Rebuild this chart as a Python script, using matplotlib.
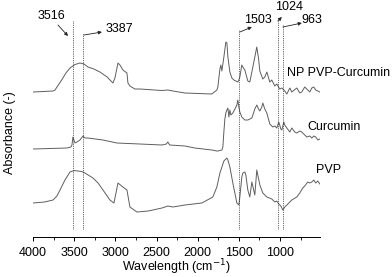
import matplotlib
matplotlib.use('Agg')
import matplotlib.pyplot as plt
from matplotlib.ticker import MultipleLocator

plt.rcParams['font.family'] = ['Liberation Sans', 'DejaVu Sans']
plt.rcParams['font.size'] = 9

# wavenumber (cm-1) and stacked absorbance (arbitrary units, offsets included)
np_wn = [4000, 3757, 3733, 3652, 3600, 3551, 3490, 3430, 3380, 3333, 3260, 3187, 3100,
         3029, 3005, 2968, 2944, 2908, 2859, 2847, 2823, 2762, 2700, 2434, 2362, 2300,
         2155, 1828, 1767, 1755, 1730, 1718, 1706, 1682, 1658, 1645, 1633, 1609, 1585,
         1560, 1512, 1500, 1488, 1464, 1451, 1427, 1391, 1367, 1342, 1306, 1282, 1260,
         1245, 1209, 1185, 1160, 1124, 1100, 1063, 1039, 1003, 978, 942, 917, 881, 857,
         796, 760, 736, 700, 675, 638, 614, 590, 566, 541, 517]
np_abs = [145, 146, 147, 157, 164, 169, 172.5, 174, 173, 170, 168, 165, 160,
          154, 159, 174, 172, 167, 164, 154, 151, 148, 148, 146.5, 147, 146,
          144, 143, 147, 150, 168, 172, 166, 180, 195, 194, 180, 165, 159,
          157, 155, 157, 160, 172, 170, 167, 156, 155, 165, 180, 190, 178,
          166, 158, 160, 165, 155, 157, 151, 153, 148, 149, 146, 143, 149, 145,
          149, 144, 145, 150, 148, 145, 149, 150, 147, 146, 145]

cur_wn = [4000, 3587, 3540, 3527, 3515, 3490, 3466, 3430, 3393, 3369, 3333, 3150, 2981,
          2701, 2434, 2380, 2362, 2340, 2155, 2034, 1828, 1767, 1755, 1706, 1694, 1682,
          1670, 1658, 1645, 1633, 1621, 1609, 1597, 1573, 1548, 1524, 1512, 1500, 1488,
          1464, 1427, 1391, 1342, 1306, 1282, 1260, 1245, 1221, 1209, 1185, 1160, 1124,
          1087, 1063, 1039, 1015, 990, 978, 954, 942, 917, 881, 857, 820, 796, 760, 736,
          700, 675, 638, 614, 590, 566, 541, 517]
cur_abs = [88, 89, 90, 92, 100, 94, 95, 97, 101, 99, 99, 97, 94,
           93, 92, 93, 95, 92, 91, 89, 87, 86, 86, 87, 90, 105,
           118, 124, 127, 129, 120, 127, 122, 124, 128, 132, 137, 130, 125,
           120, 117, 117, 119, 128, 132, 128, 126, 130, 134, 128, 124, 113,
           110, 111, 109, 115, 108, 107, 115, 112, 109, 105, 109, 105, 104, 106, 105,
           102, 100, 101, 99, 101, 100, 97, 98]

pvp_wn = [4000, 3860, 3757, 3710, 3672, 3612, 3551, 3500, 3454, 3410, 3369, 3272, 3210,
          3150, 3066, 3017, 2968, 2908, 2859, 2823, 2738, 2600, 2434, 2362, 2300, 2155,
          1949, 1816, 1767, 1730, 1682, 1645, 1633, 1609, 1573, 1524, 1500, 1488, 1464,
          1451, 1427, 1415, 1391, 1367, 1342, 1306, 1282, 1245, 1209, 1160, 1100, 1063,
          1039, 1015, 990, 966, 942, 917, 881, 857, 796, 760, 724, 700, 663, 638, 614,
          590, 566, 541, 517]
pvp_abs = [34, 35, 37, 41, 47, 57, 65, 66.5, 66, 65.5, 64, 59, 54,
           47, 37, 34, 54, 50, 47, 30, 25, 26, 29, 31, 30, 32,
           34, 40, 50, 64, 76, 79, 77, 70, 54, 34, 32, 40, 60,
           64, 65, 62, 47, 40, 55, 42, 67, 52, 44, 40, 38, 35,
           36, 33, 31, 27, 30, 32, 35, 37, 40, 44, 49, 51, 55, 54, 55,
           57, 54, 56, 53]

names = ['NP PVP-Curcumin', 'Curcumin', 'PVP']
name_pos = [(917, 164), (663, 110), (566, 67)]

marks = [3516, 3387, 1503, 1024, 963]
mark_top = [217, 204, 207, 217, 212]
# label position, arrow tail, arrow head
mark_text = [(3782, 221), (2956, 208), (1269, 217), (893, 230), (614, 217)]
mark_tail = [(3697, 212), (3381, 202), (1488, 205), (1027, 216), (966, 210)]
mark_head = [(3575, 201), (3163, 205), (1342, 210), (978, 220), (735, 214)]

fig = plt.figure(figsize=(3.92, 2.77), dpi=100)
ax = fig.add_axes([0.0842, 0.1444, 0.732, 0.8375])

col = '#5e5e5e'
ax.plot(np_wn, np_abs, color=col, lw=0.7)
ax.plot(cur_wn, cur_abs, color=col, lw=0.7)
ax.plot(pvp_wn, pvp_abs, color=col, lw=0.7)

for n, (x, y) in zip(names, name_pos):
    ax.text(x, y, n, ha='left', va='center', fontsize=9, clip_on=False)

for m, top in zip(marks, mark_top):
    ax.plot([m, m], [8, top], color='#333333', lw=0.6, ls=(0, (1, 1.2)))

for m, t, tl, hd in zip(marks, mark_text, mark_tail, mark_head):
    ax.text(t[0], t[1], str(m), ha='center', va='center', fontsize=9)
    ax.annotate('', xy=hd, xytext=tl,
                arrowprops=dict(arrowstyle='-|>', color='#222222', lw=0.6,
                                mutation_scale=5, shrinkA=0, shrinkB=0))

ax.set_xlim(4000, 515)
ax.set_ylim(0, 232)
ax.xaxis.set_major_locator(MultipleLocator(500))
ax.xaxis.set_minor_locator(MultipleLocator(250))
ax.tick_params(axis='x', which='major', direction='out', length=3, width=0.7, pad=4, labelsize=9)
ax.tick_params(axis='x', which='minor', direction='out', length=2, width=0.6)
ax.set_yticks([])
for s in ['top', 'right', 'left']:
    ax.spines[s].set_visible(False)
ax.spines['bottom'].set_linewidth(0.7)
ax.set_xlabel('Wavelength (cm$^{-1}$)', fontsize=9)
ax.xaxis.set_label_coords(0.5, -0.09)
ax.set_ylabel('Absorbance (-)', fontsize=9)
ax.yaxis.set_label_coords(-0.06, 0.45)

fig.savefig('out.png', dpi=100)
